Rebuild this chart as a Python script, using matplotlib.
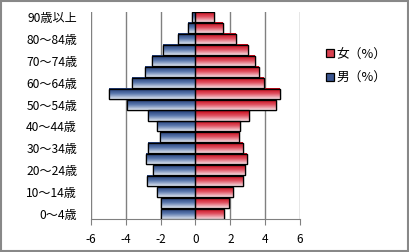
import numpy as np
import matplotlib.pyplot as plt
from matplotlib.colors import LinearSegmentedColormap
from matplotlib.patches import Rectangle

plt.rcParams['font.family'] = ['Noto Sans CJK JP', 'DejaVu Sans']

# Age groups, bottom to top
ages = ['0～4歳', '5～9歳', '10～14歳', '15～19歳', '20～24歳', '25～29歳',
        '30～34歳', '35～39歳', '40～44歳', '45～49歳', '50～54歳', '55～59歳',
        '60～64歳', '65～69歳', '70～74歳', '75～79歳', '80～84歳', '85～89歳',
        '90歳以上']
# Share of population (%)
male = [1.96, 2.0, 2.23, 2.80, 2.46, 2.86, 2.74, 2.04, 2.23, 2.74, 3.92, 4.99,
        3.66, 2.88, 2.51, 1.89, 1.03, 0.42, 0.19]
female = [1.63, 1.92, 2.15, 2.72, 2.83, 2.95, 2.72, 2.49, 2.56, 3.06, 4.61,
          4.87, 3.92, 3.63, 3.41, 3.0, 2.32, 1.58, 1.06]
xticks = [-6, -4, -2, 0, 2, 4, 6]

blue_cm = LinearSegmentedColormap.from_list('b', ['#1c3670', '#5a78ad', '#dde4ef'])
red_cm = LinearSegmentedColormap.from_list('r', ['#c00010', '#e05060', '#f6dde2'])

fig = plt.figure(figsize=(4.1, 2.52), dpi=100)
ax = fig.add_axes([91 / 410, 1 - 219 / 252, 209 / 410, 207 / 252])

y = np.arange(len(ages))
bars_f = ax.barh(y, female, height=0.92, color='#d8404f', edgecolor='black',
                 linewidth=0.9, zorder=3, label='女（%）')
bars_m = ax.barh(y, [-v for v in male], height=0.92, color='#3a5590',
                 edgecolor='black', linewidth=0.9, zorder=3, label='男（%）')

# vertical gradient fill inside each bar, dark at the top
grad = np.linspace(0, 1, 64).reshape(-1, 1)
for bars, cm in [(bars_f, red_cm), (bars_m, blue_cm)]:
    for b in bars:
        x0, y0 = b.get_x(), b.get_y()
        w, h = b.get_width(), b.get_height()
        ax.imshow(grad, cmap=cm, aspect='auto', zorder=3.5,
                  extent=(min(x0, x0 + w), max(x0, x0 + w), y0, y0 + h),
                  origin='upper')
        ax.add_patch(Rectangle((x0, y0), w, h, fill=False, edgecolor='black',
                               linewidth=0.9, zorder=4))

ax.set_xlim(-6, 6)
ax.set_ylim(-0.5, len(ages) - 0.5)
ax.set_xticks(xticks)
ax.set_xticklabels([str(t) for t in xticks], fontsize=8.5)
ax.set_yticks(y[::2])
ax.set_yticklabels(ages[::2], fontsize=8.7)
ax.tick_params(axis='y', length=0, pad=10)
ax.tick_params(axis='x', length=4, color='#808080', direction='out', pad=6)
ax.xaxis.grid(True, color='#808080', linewidth=1)
ax.set_axisbelow(True)
ax.axvline(0, color='#808080', linewidth=1, zorder=2)
for s in ['top', 'right', 'left']:
    ax.spines[s].set_visible(False)
ax.spines['bottom'].set_color('#808080')

fig.legend(handles=[bars_f, bars_m], loc='upper left',
           bbox_to_anchor=(315 / 410, 1 - 36 / 252), frameon=False,
           fontsize=9.2, handlelength=0.55, handleheight=0.55, handletextpad=0.2,
           labelspacing=0.85)

fig.patches.append(Rectangle((0.002, 0.004), 0.994, 0.992, fill=False,
                             edgecolor='#888888', linewidth=1.5,
                             transform=fig.transFigure))

fig.savefig('out.png', dpi=100)
